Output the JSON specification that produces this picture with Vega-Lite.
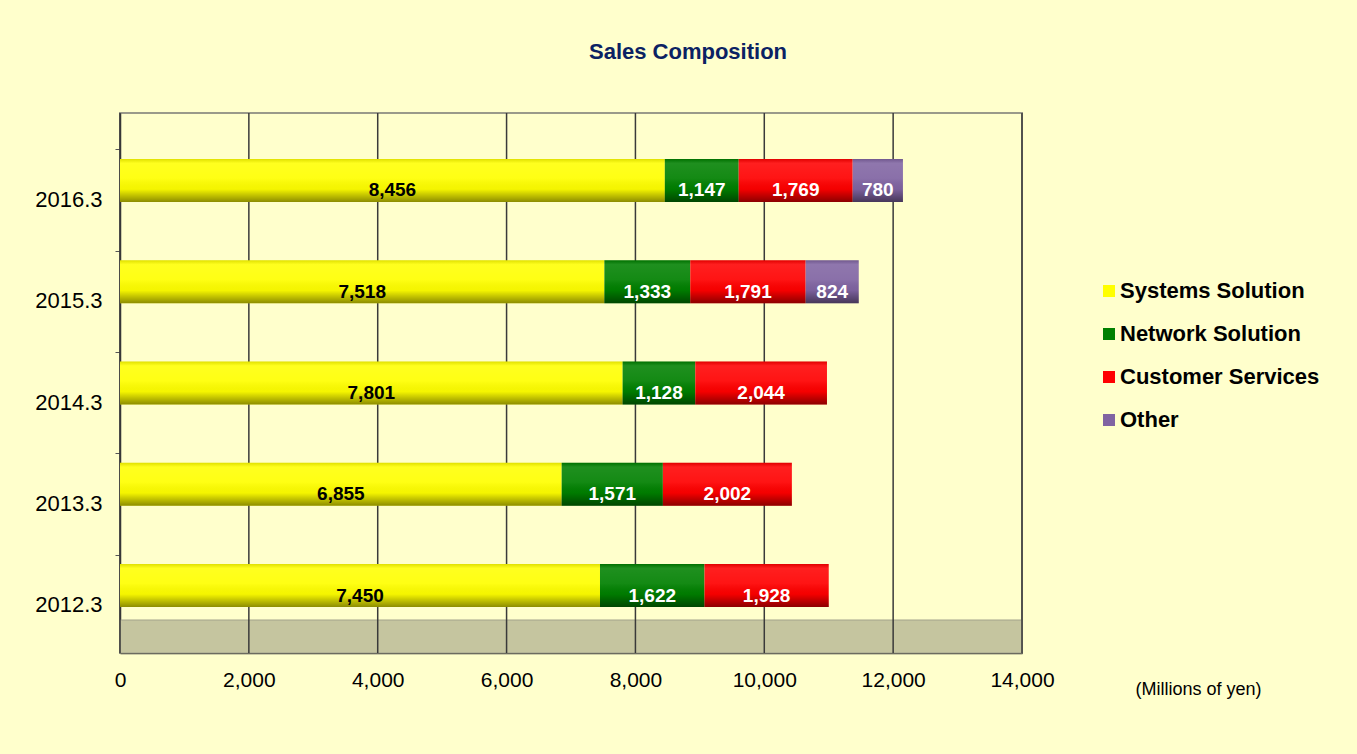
{
  "$schema": "https://vega.github.io/schema/vega-lite/v6.json",
  "width": 902,
  "height": 540,
  "autosize": "none",
  "padding": {"left": 120, "top": 113, "right": 335, "bottom": 101},
  "background": "#FFFFCC",
  "title": {
    "text": "Sales Composition",
    "fontSize": 22,
    "fontWeight": "bold",
    "font": "Liberation Sans",
    "color": "#0b2263",
    "anchor": "middle",
    "frame": "group",
    "dx": 117,
    "offset": 48
  },
  "config": {
    "font": "Liberation Sans",
    "view": {"stroke": "#9a9a8a", "strokeWidth": 2, "fill": "#FFFFCC"}
  },
  "layer": [
    {
      "data": {"values": [{"a": 0, "b": 14000, "lo": 0, "hi": 0.0611}]},
      "mark": {"type": "rect", "fill": "#C5C59F", "stroke": "#A3A38C", "strokeWidth": 1},
      "encoding": {
        "x": {
          "field": "a", "type": "quantitative", "scale": {"domain": [0, 14000], "nice": false},
          "axis": {"labelExpr": "format(datum.value, ',')", "values": [0, 2000, 4000, 6000, 8000, 10000, 12000, 14000], "grid": false, "ticks": false, "tickSize": 0, "domainColor": "#333333", "domainWidth": 1.5, "labelFontSize": 21, "labelColor": "#000000", "labelPadding": 16, "labelFlush": false, "title": "(Millions of yen)", "titleFontSize": 18, "titleFontWeight": "normal", "titleColor": "#000000", "titleX": 1078, "titleY": 36, "titleAlign": "center", "titleBaseline": "middle"}
        },
        "x2": {"field": "b"},
        "y": {"field": "lo", "type": "quantitative", "scale": {"domain": [0, 1]}, "axis": null},
        "y2": {"field": "hi"}
      }
    },
    {
      "data": {"values": [{"g": 0}, {"g": 2000}, {"g": 4000}, {"g": 6000}, {"g": 8000}, {"g": 10000}, {"g": 12000}, {"g": 14000}]},
      "mark": {"type": "rule", "color": "#3a3a3a", "strokeWidth": 1.5},
      "encoding": {
        "x": {
          "field": "g", "type": "quantitative", "scale": {"domain": [0, 14000], "nice": false},
          "axis": {"labelExpr": "format(datum.value, ',')", "values": [0, 2000, 4000, 6000, 8000, 10000, 12000, 14000], "grid": false, "ticks": false, "tickSize": 0, "domainColor": "#333333", "domainWidth": 1.5, "labelFontSize": 21, "labelColor": "#000000", "labelPadding": 16, "labelFlush": false, "title": "(Millions of yen)", "titleFontSize": 18, "titleFontWeight": "normal", "titleColor": "#000000", "titleX": 1078, "titleY": 36, "titleAlign": "center", "titleBaseline": "middle"}
        }
      }
    },
    {
      "data": {
        "values": [
          {"year": "2016.3", "segment": "Systems Solution", "k": 1, "value": 8456},
          {"year": "2016.3", "segment": "Network Solution", "k": 2, "value": 1147},
          {"year": "2016.3", "segment": "Customer Services", "k": 3, "value": 1769},
          {"year": "2016.3", "segment": "Other", "k": 4, "value": 780},
          {"year": "2015.3", "segment": "Systems Solution", "k": 1, "value": 7518},
          {"year": "2015.3", "segment": "Network Solution", "k": 2, "value": 1333},
          {"year": "2015.3", "segment": "Customer Services", "k": 3, "value": 1791},
          {"year": "2015.3", "segment": "Other", "k": 4, "value": 824},
          {"year": "2014.3", "segment": "Systems Solution", "k": 1, "value": 7801},
          {"year": "2014.3", "segment": "Network Solution", "k": 2, "value": 1128},
          {"year": "2014.3", "segment": "Customer Services", "k": 3, "value": 2044},
          {"year": "2013.3", "segment": "Systems Solution", "k": 1, "value": 6855},
          {"year": "2013.3", "segment": "Network Solution", "k": 2, "value": 1571},
          {"year": "2013.3", "segment": "Customer Services", "k": 3, "value": 2002},
          {"year": "2012.3", "segment": "Systems Solution", "k": 1, "value": 7450},
          {"year": "2012.3", "segment": "Network Solution", "k": 2, "value": 1622},
          {"year": "2012.3", "segment": "Customer Services", "k": 3, "value": 1928}
        ]
      },
      "transform": [
        {"stack": "value", "groupby": ["year"], "sort": [{"field": "k", "order": "ascending"}], "as": ["x0", "x1"]},
        {"calculate": "(datum.x0 + datum.x1) / 2", "as": "mid"}
      ],
      "encoding": {
        "y": {
          "field": "year",
          "type": "nominal",
          "sort": ["2016.3", "2015.3", "2014.3", "2013.3", "2012.3"],
          "scale": {"paddingInner": 0.575, "paddingOuter": 0.454},
          "axis": {
            "title": null,
            "tickOffset": -31,
            "labelOffset": 50,
            "ticks": true,
            "tickSize": 5,
            "tickColor": "#555555",
            "domain": true,
            "domainColor": "#333333",
            "domainWidth": 1.5,
            "labelFontSize": 22,
            "labelColor": "#000000",
            "labelPadding": 13,
            "grid": false
          }
        }
      },
      "layer": [
        {
          "mark": {"type": "bar"},
          "encoding": {
            "x": {
              "field": "x0", "type": "quantitative", "scale": {"domain": [0, 14000], "nice": false},
              "axis": {"labelExpr": "format(datum.value, ',')", "values": [0, 2000, 4000, 6000, 8000, 10000, 12000, 14000], "grid": false, "ticks": false, "tickSize": 0, "domainColor": "#333333", "domainWidth": 1.5, "labelFontSize": 21, "labelColor": "#000000", "labelPadding": 16, "labelFlush": false, "title": "(Millions of yen)", "titleFontSize": 18, "titleFontWeight": "normal", "titleColor": "#000000", "titleX": 1078, "titleY": 36, "titleAlign": "center", "titleBaseline": "middle"}
            },
            "x2": {"field": "x1"},
            "color": {
              "field": "segment",
              "type": "nominal",
              "scale": {
                "domain": ["Systems Solution", "Network Solution", "Customer Services", "Other"],
                "range": ["#FFFF00", "#008000", "#FF0000", "#8064A2"]
              },
              "legend": {
                "orient": "none",
                "legendX": 978,
                "legendY": 167,
                "title": null,
                "symbolType": "square",
                "symbolSize": 144,
                "symbolStrokeWidth": 0,
                "labelFontSize": 22,
                "labelFontWeight": "bold",
                "labelColor": "#000000",
                "labelOffset": 0,
                "labelLimit": 400,
                "rowPadding": 21
              }
            }
          }
        },
        {
          "mark": {
            "type": "bar",
            "fill": {
              "gradient": "linear",
              "x1": 0, "y1": 0, "x2": 0, "y2": 1,
              "stops": [
                {"offset": 0, "color": "rgba(0,0,0,0.12)"},
                {"offset": 0.1, "color": "rgba(255,255,255,0.12)"},
                {"offset": 0.45, "color": "rgba(255,255,255,0.08)"},
                {"offset": 0.7, "color": "rgba(0,0,0,0.04)"},
                {"offset": 1, "color": "rgba(0,0,0,0.45)"}
              ]
            }
          },
          "encoding": {
            "x": {
              "field": "x0", "type": "quantitative", "scale": {"domain": [0, 14000], "nice": false},
              "axis": {"labelExpr": "format(datum.value, ',')", "values": [0, 2000, 4000, 6000, 8000, 10000, 12000, 14000], "grid": false, "ticks": false, "tickSize": 0, "domainColor": "#333333", "domainWidth": 1.5, "labelFontSize": 21, "labelColor": "#000000", "labelPadding": 16, "labelFlush": false, "title": "(Millions of yen)", "titleFontSize": 18, "titleFontWeight": "normal", "titleColor": "#000000", "titleX": 1078, "titleY": 36, "titleAlign": "center", "titleBaseline": "middle"}
            },
            "x2": {"field": "x1"}
          }
        },
        {
          "mark": {"type": "text", "fontSize": 19, "fontWeight": "bold", "dy": 10},
          "encoding": {
            "x": {
              "field": "mid", "type": "quantitative", "scale": {"domain": [0, 14000], "nice": false},
              "axis": {"labelExpr": "format(datum.value, ',')", "values": [0, 2000, 4000, 6000, 8000, 10000, 12000, 14000], "grid": false, "ticks": false, "tickSize": 0, "domainColor": "#333333", "domainWidth": 1.5, "labelFontSize": 21, "labelColor": "#000000", "labelPadding": 16, "labelFlush": false, "title": "(Millions of yen)", "titleFontSize": 18, "titleFontWeight": "normal", "titleColor": "#000000", "titleX": 1078, "titleY": 36, "titleAlign": "center", "titleBaseline": "middle"}
            },
            "text": {"field": "value", "type": "quantitative", "format": ","},
            "color": {
              "condition": {"test": "datum.segment === 'Systems Solution'", "value": "#000000"},
              "value": "#FFFFFF"
            }
          }
        }
      ]
    }
  ],
  "resolve": {"scale": {"y": "independent"}}
}
